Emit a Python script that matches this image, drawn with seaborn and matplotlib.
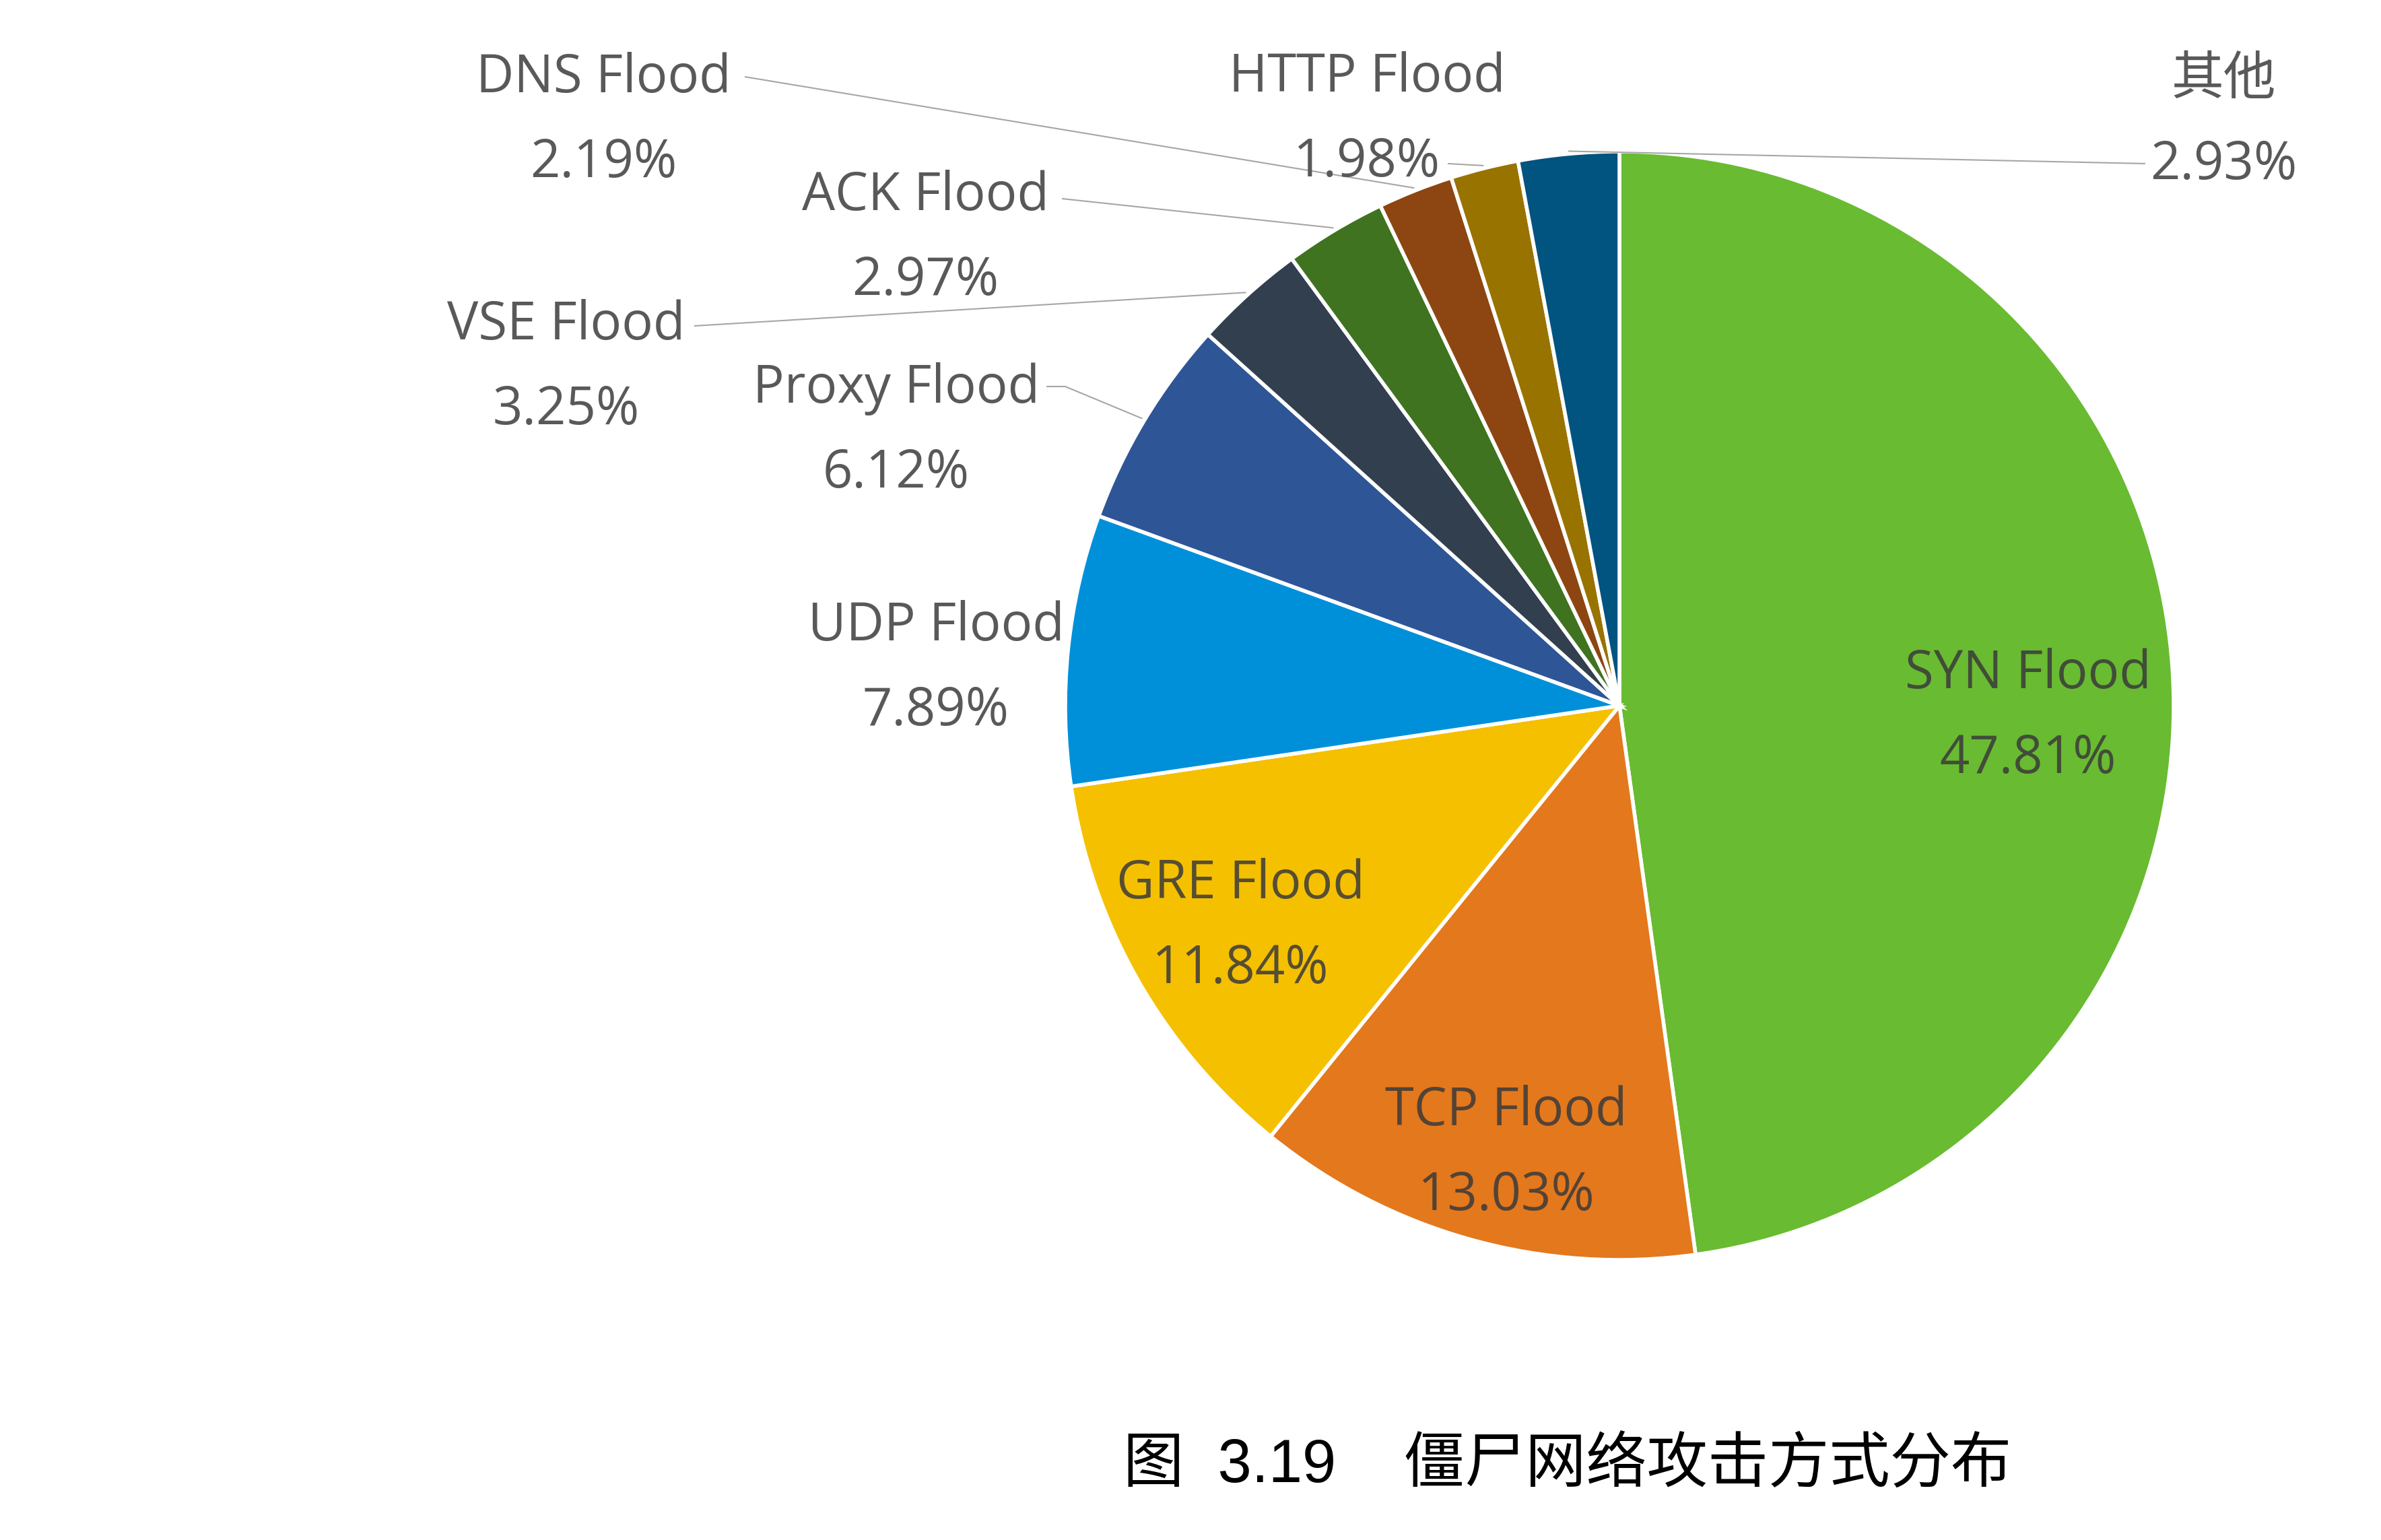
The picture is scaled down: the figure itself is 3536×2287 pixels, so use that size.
import numpy as np
import matplotlib
matplotlib.use("Agg")
import matplotlib.pyplot as plt
import seaborn as sns

# data
attack_types = ["SYN Flood", "TCP Flood", "GRE Flood", "UDP Flood", "Proxy Flood",
                "VSE Flood", "ACK Flood", "DNS Flood", "HTTP Flood", "其他"]
shares = [47.81, 13.03, 11.84, 7.89, 6.12, 3.25, 2.97, 2.19, 1.98, 2.93]
slice_colors = ["#69BB31", "#E4781C", "#F5C000", "#0090DA", "#2E5596",
                "#323F4F", "#3F7320", "#8D4611", "#997300", "#01547F"]
caption = "图  3.19    僵尸网络攻击方式分布"

W, H = 3537, 2287
CX, CY, R = 2405, 1048, 823


def Y(v):
    # picture rows are counted from the top
    return H - v


sns.set_theme(style="white")
plt.rcParams['font.family'] = ['Open Sans', 'Noto Sans CJK SC', 'DejaVu Sans']

fig = plt.figure(figsize=(W / 100, H / 100), dpi=100)
ax = fig.add_axes([0, 0, 1, 1])

wedges, _ = ax.pie(shares, colors=sns.color_palette(slice_colors), startangle=90,
                   counterclock=False, center=(CX, Y(CY)), radius=R,
                   wedgeprops=dict(edgecolor='white', linewidth=4))
ax.set_xlim(0, W)
ax.set_ylim(0, H)
ax.set_aspect('equal')
ax.axis('off')

# label placement: x centre, baseline of name line (pixels from top), inside?
label_pos = {
    "SYN Flood": (3012, 1022, True),
    "TCP Flood": (2237, 1671, True),
    "GRE Flood": (1842, 1334, True),
    "UDP Flood": (1390, 951, False),
    "Proxy Flood": (1331, 598, False),
    "VSE Flood": (841, 504, False),
    "ACK Flood": (1374, 312, False),
    "DNS Flood": (896, 137, False),
    "HTTP Flood": (2030, 136, False),
    "其他": (3302, 140, False),
}
fs = 56
line_gap = 126

for name, val in zip(attack_types, shares):
    x, b, inside = label_pos[name]
    col = '#3a3a3a' if inside else '#595959'
    alpha = 0.85 if inside else 1.0
    ax.text(x, Y(b), name, ha='center', va='baseline', fontsize=fs, color=col, alpha=alpha)
    ax.text(x, Y(b + line_gap), f"{val:.2f}%", ha='center', va='baseline', fontsize=fs,
            color=col, alpha=alpha)


def edge_point(w, r=R):
    ang = np.deg2rad((w.theta1 + w.theta2) / 2)
    return CX + r * np.cos(ang), Y(CY) + r * np.sin(ang)


# leader lines: start near the text, end on the slice edge
leaders = {
    "DNS Flood": [(1106, 114)],
    "ACK Flood": [(1577, 295)],
    "VSE Flood": [(1031, 484)],
    "Proxy Flood": [(1554, 574), (1582, 574)],
    "HTTP Flood": [(2150, 243)],
    "其他": [(3186, 243)],
}
for name, pts in leaders.items():
    w = wedges[attack_types.index(name)]
    ex, ey = edge_point(w, R + 4)
    xs = [p[0] for p in pts] + [ex]
    ys = [Y(p[1]) for p in pts] + [ey]
    ax.plot(xs, ys, color='#A6A6A6', lw=1.5, solid_capstyle='butt')

ax.text(2328, Y(2178), caption, ha='center', va='center', fontsize=65,
        color='black', fontweight='medium',
        family=['Liberation Sans', 'Noto Sans CJK SC', 'DejaVu Sans'])

fig.savefig("out.png", dpi=100, facecolor='white')
